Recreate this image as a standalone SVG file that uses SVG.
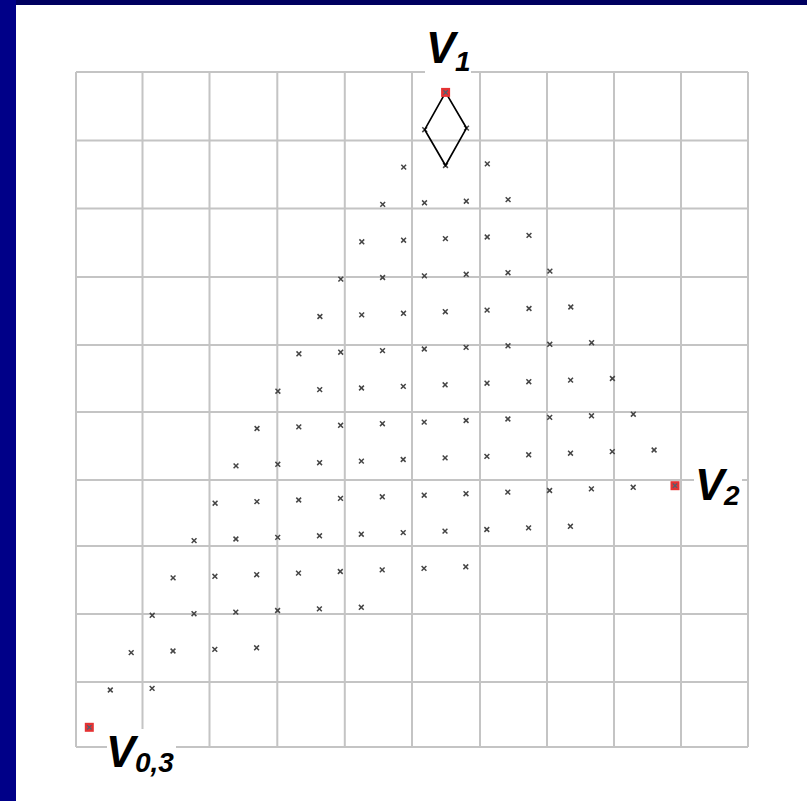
<svg xmlns="http://www.w3.org/2000/svg" xmlns:xlink="http://www.w3.org/1999/xlink" width="807" height="801" viewBox="0 0 807 801">
<defs>
<style>
.grid line{stroke:#c4c4c4;stroke-width:2}
.lbl{font-family:"Liberation Sans",Arial,sans-serif;font-weight:bold;font-style:italic;fill:#000}
.big{font-size:44px}
.sub{font-size:28px}
.edge{stroke:#000;stroke-width:1.7;fill:none}
</style>
<g id="m"><path d="M-2.4,-2.4L2.4,2.4M-2.4,2.4L2.4,-2.4" stroke="#454545" stroke-width="1.5"/></g>
<g id="v"><rect x="-4.5" y="-4.5" width="9" height="9" fill="#e53233"/><path d="M-2.2,-2.2L2.2,2.2M-2.2,2.2L2.2,-2.2" stroke="#506070" stroke-width="1.3"/></g>
</defs>
<rect width="807" height="801" fill="#fff"/>
<rect x="0" y="0" width="807" height="5" fill="#000060"/>
<rect x="0" y="0" width="16" height="801" fill="#000088"/>
<g class="grid" id="grid">
<line x1="76" y1="72" x2="76" y2="747"/><line x1="142.5" y1="72" x2="142.5" y2="747"/><line x1="209.5" y1="72" x2="209.5" y2="747"/><line x1="277.3" y1="72" x2="277.3" y2="747"/><line x1="344.8" y1="72" x2="344.8" y2="747"/><line x1="412" y1="72" x2="412" y2="747"/><line x1="480" y1="72" x2="480" y2="747"/><line x1="547" y1="72" x2="547" y2="747"/><line x1="614" y1="72" x2="614" y2="747"/><line x1="681" y1="72" x2="681" y2="747"/><line x1="748" y1="72" x2="748" y2="747"/>
<line x1="76" y1="72" x2="748" y2="72"/><line x1="76" y1="140.5" x2="748" y2="140.5"/><line x1="76" y1="208.5" x2="748" y2="208.5"/><line x1="76" y1="277" x2="748" y2="277"/><line x1="76" y1="345" x2="748" y2="345"/><line x1="76" y1="412" x2="748" y2="412"/><line x1="76" y1="480" x2="748" y2="480"/><line x1="76" y1="546" x2="748" y2="546"/><line x1="76" y1="614" x2="748" y2="614"/><line x1="76" y1="682" x2="748" y2="682"/><line x1="76" y1="747" x2="748" y2="747"/>
</g>
<rect x="425" y="62" width="46" height="16" fill="#fff"/>
<rect x="694" y="470" width="48" height="20" fill="#fff"/>
<rect x="107" y="729" width="69" height="24" fill="#fff"/>
<g id="points">
<g transform="translate(110.3,690.0)"><use href="#m"/><use href="#m" x="41.8" y="-1.6"/></g>
<g transform="translate(131.2,652.6)"><use href="#m"/><use href="#m" x="41.8" y="-1.6"/><use href="#m" x="83.6" y="-3.2"/><use href="#m" x="125.4" y="-4.8"/></g>
<g transform="translate(152.2,615.3)"><use href="#m"/><use href="#m" x="41.8" y="-1.6"/><use href="#m" x="83.6" y="-3.2"/><use href="#m" x="125.4" y="-4.8"/><use href="#m" x="167.2" y="-6.4"/><use href="#m" x="209.1" y="-8"/></g>
<g transform="translate(173.1,577.9)"><use href="#m"/><use href="#m" x="41.8" y="-1.6"/><use href="#m" x="83.6" y="-3.2"/><use href="#m" x="125.4" y="-4.8"/><use href="#m" x="167.2" y="-6.4"/><use href="#m" x="209.1" y="-8"/><use href="#m" x="250.9" y="-9.5"/><use href="#m" x="292.7" y="-11.1"/></g>
<g transform="translate(194.1,540.6)"><use href="#m"/><use href="#m" x="41.8" y="-1.6"/><use href="#m" x="83.6" y="-3.2"/><use href="#m" x="125.4" y="-4.8"/><use href="#m" x="167.2" y="-6.4"/><use href="#m" x="209.1" y="-8"/><use href="#m" x="250.9" y="-9.5"/><use href="#m" x="292.7" y="-11.1"/><use href="#m" x="334.5" y="-12.7"/><use href="#m" x="376.3" y="-14.3"/></g>
<g transform="translate(215.1,503.2)"><use href="#m"/><use href="#m" x="41.8" y="-1.6"/><use href="#m" x="83.6" y="-3.2"/><use href="#m" x="125.4" y="-4.8"/><use href="#m" x="167.2" y="-6.4"/><use href="#m" x="209.1" y="-8"/><use href="#m" x="250.9" y="-9.5"/><use href="#m" x="292.7" y="-11.1"/><use href="#m" x="334.5" y="-12.7"/><use href="#m" x="376.3" y="-14.3"/><use href="#m" x="418.1" y="-15.9"/></g>
<g transform="translate(236.0,465.9)"><use href="#m"/><use href="#m" x="41.8" y="-1.6"/><use href="#m" x="83.6" y="-3.2"/><use href="#m" x="125.4" y="-4.8"/><use href="#m" x="167.2" y="-6.4"/><use href="#m" x="209.1" y="-8"/><use href="#m" x="250.9" y="-9.5"/><use href="#m" x="292.7" y="-11.1"/><use href="#m" x="334.5" y="-12.7"/><use href="#m" x="376.3" y="-14.3"/><use href="#m" x="418.1" y="-15.9"/></g>
<g transform="translate(257.0,428.5)"><use href="#m"/><use href="#m" x="41.8" y="-1.6"/><use href="#m" x="83.6" y="-3.2"/><use href="#m" x="125.4" y="-4.8"/><use href="#m" x="167.2" y="-6.4"/><use href="#m" x="209.1" y="-8"/><use href="#m" x="250.9" y="-9.5"/><use href="#m" x="292.7" y="-11.1"/><use href="#m" x="334.5" y="-12.7"/><use href="#m" x="376.3" y="-14.3"/></g>
<g transform="translate(277.9,391.2)"><use href="#m"/><use href="#m" x="41.8" y="-1.6"/><use href="#m" x="83.6" y="-3.2"/><use href="#m" x="125.4" y="-4.8"/><use href="#m" x="167.2" y="-6.4"/><use href="#m" x="209.1" y="-8"/><use href="#m" x="250.9" y="-9.5"/><use href="#m" x="292.7" y="-11.1"/><use href="#m" x="334.5" y="-12.7"/></g>
<g transform="translate(298.9,353.8)"><use href="#m"/><use href="#m" x="41.8" y="-1.6"/><use href="#m" x="83.6" y="-3.2"/><use href="#m" x="125.4" y="-4.8"/><use href="#m" x="167.2" y="-6.4"/><use href="#m" x="209.1" y="-8"/><use href="#m" x="250.9" y="-9.5"/><use href="#m" x="292.7" y="-11.1"/></g>
<g transform="translate(319.9,316.5)"><use href="#m"/><use href="#m" x="41.8" y="-1.6"/><use href="#m" x="83.6" y="-3.2"/><use href="#m" x="125.4" y="-4.8"/><use href="#m" x="167.2" y="-6.4"/><use href="#m" x="209.1" y="-8"/><use href="#m" x="250.9" y="-9.5"/></g>
<g transform="translate(340.8,279.1)"><use href="#m"/><use href="#m" x="41.8" y="-1.6"/><use href="#m" x="83.6" y="-3.2"/><use href="#m" x="125.4" y="-4.8"/><use href="#m" x="167.2" y="-6.4"/><use href="#m" x="209.1" y="-8"/></g>
<g transform="translate(361.8,241.8)"><use href="#m"/><use href="#m" x="41.8" y="-1.6"/><use href="#m" x="83.6" y="-3.2"/><use href="#m" x="125.4" y="-4.8"/><use href="#m" x="167.2" y="-6.4"/></g>
<g transform="translate(382.7,204.4)"><use href="#m"/><use href="#m" x="41.8" y="-1.6"/><use href="#m" x="83.6" y="-3.2"/><use href="#m" x="125.4" y="-4.8"/></g>
<g transform="translate(403.7,167.1)"><use href="#m"/><use href="#m" x="41.8" y="-1.6"/><use href="#m" x="83.6" y="-3.2"/></g>
<g transform="translate(424.7,129.7)"><use href="#m"/><use href="#m" x="41.8" y="-1.6"/></g>
</g>
<g id="connectors">
<polygon class="edge" points="445.6,92.4 424.7,129.7 445.5,165.5 466.5,128.1"/>
</g>
<g id="node-v1"><use href="#v" x="445.6" y="92.4"/><text class="lbl big" x="426" y="63">V</text><text class="lbl sub" x="455" y="71">1</text></g>
<g id="node-v2"><use href="#v" x="675" y="485.7"/><text class="lbl big" x="695" y="500">V</text><text class="lbl sub" x="724" y="505">2</text></g>
<g id="node-v03"><use href="#v" x="89.3" y="727.3"/><text class="lbl big" x="106" y="767">V</text><text class="lbl sub" x="135" y="772">0,3</text></g>
</svg>
